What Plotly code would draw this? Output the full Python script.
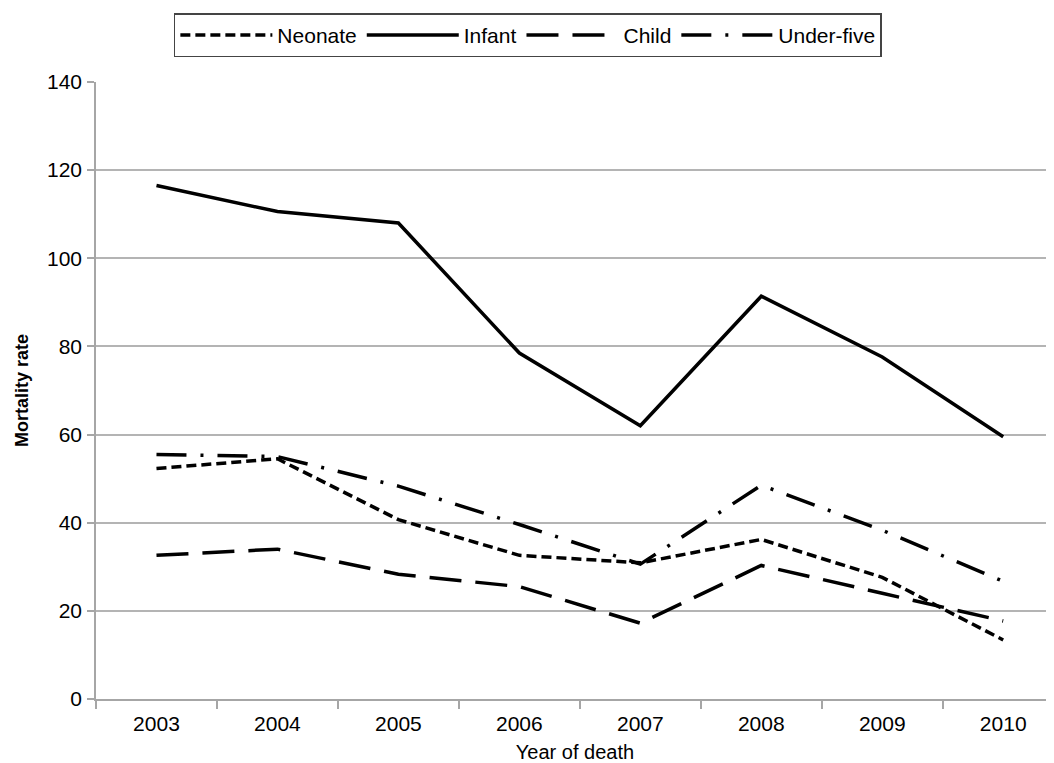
import plotly.graph_objects as go

years = ["2003", "2004", "2005", "2006", "2007", "2008", "2009", "2010"]
neonate = [52.3, 54.5, 40.7, 32.6, 30.9, 36.2, 27.6, 13.4]
infant = [116.5, 110.6, 108.0, 78.5, 62.0, 91.4, 77.6, 59.5]
child = [32.6, 34.0, 28.3, 25.5, 17.2, 30.3, 24.0, 17.7]
under_five = [55.5, 55.0, 48.3, 39.6, 30.6, 48.5, 38.3, 26.7]

FONT = "Liberation Sans, Arial, sans-serif"

fig = go.Figure()
fig.add_trace(go.Scatter(x=years, y=neonate, name="Neonate", mode="lines",
                         line=dict(color="black", width=3.5, dash="10px,5px")))
fig.add_trace(go.Scatter(x=years, y=infant, name="Infant", mode="lines",
                         line=dict(color="black", width=3.5)))
fig.add_trace(go.Scatter(x=years, y=child, name="Child", mode="lines",
                         line=dict(color="black", width=3.5, dash="32px,14px")))
fig.add_trace(go.Scatter(x=years, y=under_five, name="Under-five", mode="lines",
                         line=dict(color="black", width=3.5, dash="30px,14px,3px,14px")))

fig.update_layout(
    width=1046, height=755,
    paper_bgcolor="white", plot_bgcolor="white",
    margin=dict(l=88, r=0, t=74, b=64, autoexpand=False),
    font=dict(family=FONT, size=21, color="black"),
    showlegend=True,
    legend=dict(
        orientation="h", xref="container", yref="container",
        x=0.497, xanchor="center", y=0.993, yanchor="top",
        bordercolor="#444444", borderwidth=1.5, bgcolor="white",
        font=dict(family=FONT, size=21, color="black"),
        itemwidth=92,
    ),
    xaxis=dict(
        type="category", range=[-0.5, 7.42], automargin=False,
        tickson="boundaries", ticks="outside", ticklen=8, tickwidth=1.5, tickcolor="#a6a6a6",
        ticklabelstandoff=5,
        showline=True, linecolor="#a6a6a6", linewidth=1.5,
        showgrid=False, zeroline=False,
        tickfont=dict(family=FONT, size=21, color="black"),
        title=dict(text="Year of death", font=dict(family=FONT, size=20, color="black"), standoff=16),
    ),
    yaxis=dict(
        range=[0, 140], dtick=20, tick0=0, automargin=False,
        ticks="outside", ticklen=7, tickwidth=1.5, tickcolor="#a6a6a6",
        ticklabelstandoff=1,
        showline=True, linecolor="#a6a6a6", linewidth=1.5,
        showgrid=True, gridcolor="#b4b4b4", gridwidth=1.5, zeroline=False,
        tickfont=dict(family=FONT, size=21, color="black"),
        title=dict(text="<b>Mortality rate</b>", font=dict(family=FONT, size=18, color="black"), standoff=14),
    ),
)

fig.write_html("out.html")
